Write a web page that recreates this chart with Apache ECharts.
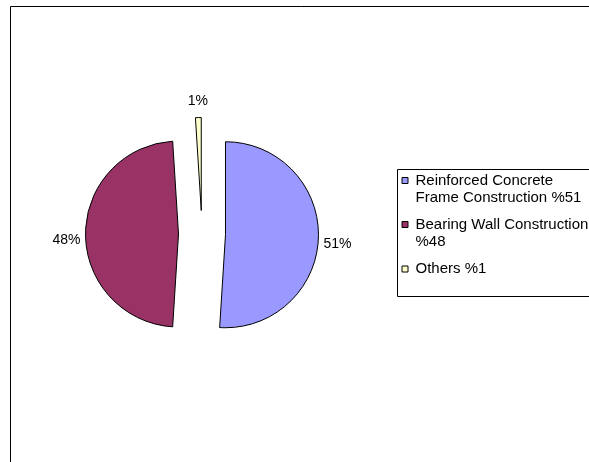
<!DOCTYPE html>
<html>
<head>
<meta charset="utf-8">
<script src="https://cdn.jsdelivr.net/npm/echarts@6/dist/echarts.min.js"></script>
<style>
html,body{margin:0;padding:0;background:#fff;}
#chart{width:589px;height:462px;}
</style>
</head>
<body>
<div id="chart"></div>
<script>
const categories = [
  'Reinforced Concrete\nFrame Construction %51',
  'Bearing Wall Construction\n%48',
  'Others %1'
];
const values = [51, 48, 1];
const palette = ['#9999FF', '#993366', '#FFFFCC'];

const FONT = '"Liberation Sans", Arial, sans-serif';
const iconTwoLine = 'path://M0,0M9,24M0.5,0.5h6v6h-6z';
const iconOneLine = 'path://M0,0M9,17M0.5,5.5h6v6h-6z';

const chart = echarts.init(document.getElementById('chart'), null, {renderer: 'canvas'});

const pieData = categories.map((name, i) => ({
  name: name,
  value: values[i],
  selected: true,
  itemStyle: {color: palette[i]},
  labelLine: i === 2 ? {show: false, length: 16, length2: 0} : {show: false, length: 0, length2: 0},
  label: i === 2 ? {distanceToLabelLine: 0} : {distanceToLabelLine: 5}
}));

chart.setOption({
  animation: false,
  backgroundColor: '#fff',
  graphic: [
    {type: 'rect', shape: {x: 10.5, y: 6.5, width: 700, height: 600},
     style: {fill: 'none', stroke: '#000', lineWidth: 1}, silent: true},
    {type: 'rect', shape: {x: 397.5, y: 169.5, width: 300, height: 127},
     style: {fill: 'none', stroke: '#000', lineWidth: 1}, silent: true}
  ],
  legend: {
    orient: 'vertical',
    left: 401,
    top: 172,
    padding: 0,
    itemGap: 10,
    itemWidth: 9,
    itemHeight: 24,
    symbolKeepAspect: true,
    selectedMode: false,
    itemStyle: {borderColor: '#000', borderWidth: 1},
    textStyle: {fontFamily: FONT, fontSize: 15, lineHeight: 17, color: '#000'},
    data: categories.map((name, i) => ({name: name, icon: i === 2 ? iconOneLine : iconTwoLine}))
  },
  series: [{
    type: 'pie',
    center: [202, 234],
    radius: 93,
    startAngle: 90,
    clockwise: true,
    selectedMode: 'multiple',
    selectedOffset: 23.5,
    avoidLabelOverlap: false,
    emphasis: {disabled: true},
    itemStyle: {borderColor: '#000', borderWidth: 1},
    label: {
      show: true,
      position: 'outside',
      formatter: '{d}%',
      fontFamily: FONT,
      fontSize: 14,
      color: '#000'
    },
    labelLine: {show: false},
    labelLayout: function (params) {
      if (params.dataIndex === 2) {
        return {align: 'center'};
      }
      return {dy: 6};
    },
    data: pieData
  }]
});
</script>
</body>
</html>
